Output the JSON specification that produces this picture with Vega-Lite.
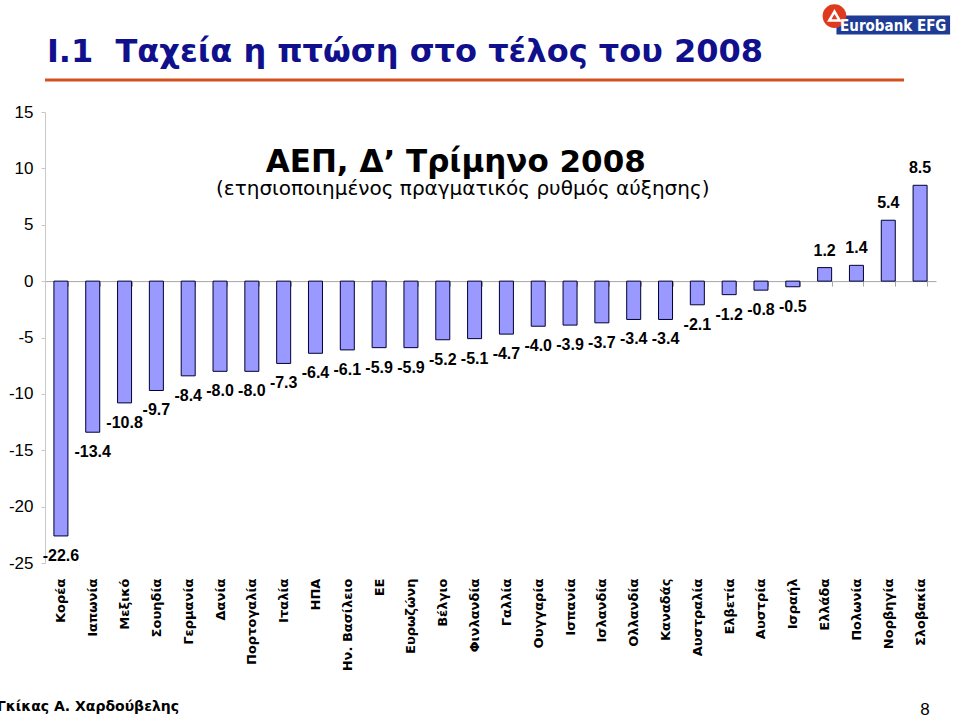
{
  "$schema": "https://vega.github.io/schema/vega-lite/v6.json",
  "width": 891,
  "height": 451,
  "autosize": {"type": "none"},
  "padding": {"left": 45, "top": 112, "right": 24, "bottom": 155},
  "background": "white",
  "config": {
    "view": {"stroke": null},
    "locale": {"number": {"decimal": ".", "thousands": ",", "grouping": [3], "currency": ["", ""], "minus": "-"}}
  },
  "datasets": {
    "gdp": [
      {"country": "Κορέα", "value": -22.6},
      {"country": "Ιαπωνία", "value": -13.4},
      {"country": "Μεξικό", "value": -10.8},
      {"country": "Σουηδία", "value": -9.7},
      {"country": "Γερμανία", "value": -8.4},
      {"country": "Δανία", "value": -8.0},
      {"country": "Πορτογαλία", "value": -8.0},
      {"country": "Ιταλία", "value": -7.3},
      {"country": "ΗΠΑ", "value": -6.4},
      {"country": "Ην. Βασίλειο", "value": -6.1},
      {"country": "ΕΕ", "value": -5.9},
      {"country": "Ευρωζώνη", "value": -5.9},
      {"country": "Βέλγιο", "value": -5.2},
      {"country": "Φινλανδία", "value": -5.1},
      {"country": "Γαλλία", "value": -4.7},
      {"country": "Ουγγαρία", "value": -4.0},
      {"country": "Ισπανία", "value": -3.9},
      {"country": "Ισλανδία", "value": -3.7},
      {"country": "Ολλανδία", "value": -3.4},
      {"country": "Καναδάς", "value": -3.4},
      {"country": "Αυστραλία", "value": -2.1},
      {"country": "Ελβετία", "value": -1.2},
      {"country": "Αυστρία", "value": -0.8},
      {"country": "Ισραήλ", "value": -0.5},
      {"country": "Ελλάδα", "value": 1.2},
      {"country": "Πολωνία", "value": 1.4},
      {"country": "Νορβηγία", "value": 5.4},
      {"country": "Σλοβακία", "value": 8.5}
    ],
    "notes": [
      {"key": "title", "t": "I.1\u00a0 Ταχεία η πτώση στο τέλος του 2008", "c": "Κορέα", "v": 19.43},
      {"key": "head", "t": "ΑΕΠ, Δ’ Τρίμηνο 2008", "c": "Βέλγιο", "v": 9.7},
      {"key": "sub", "t": "(ετησιοποιημένος πραγματικός ρυθμός αύξησης)", "c": "Βέλγιο", "v": 7.64},
      {"key": "author", "t": "Γκίκας Α. Χαρδούβελης", "c": "Κορέα", "v": -38.15},
      {"key": "page", "t": "8", "c": "Σλοβακία", "v": -38.45},
      {"key": "logo", "t": "Eurobank EFG", "c": "Νορβηγία", "v": 22.65}
    ]
  },
  "layer": [
    {
      "data": {"name": "gdp"},
      "mark": {"type": "bar", "fill": "#9999FF", "stroke": "#000033", "strokeWidth": 1},
      "encoding": {
        "x": {
          "field": "country",
          "type": "nominal",
          "sort": null,
          "scale": {"paddingInner": 0.56, "paddingOuter": 0.28},
          "axis": {
            "title": null,
            "orient": "bottom",
            "offset": -281.9,
            "domainColor": "#A6A6A6",
            "tickColor": "#A6A6A6",
            "tickSize": 5,
            "tickBand": "extent",
            "labelAngle": -90,
            "labelPadding": 292,
            "labelFont": "DejaVu Sans",
            "labelFontWeight": "bold",
            "labelFontSize": 13,
            "labelColor": "black",
            "labelOverlap": false,
            "labelLimit": 0
          }
        },
        "y": {
          "field": "value",
          "type": "quantitative",
          "scale": {"domain": [-25, 15], "nice": false},
          "axis": {
            "title": null,
            "values": [-25, -20, -15, -10, -5, 0, 5, 10, 15],
            "grid": false,
            "domainColor": "#C8C8C8",
            "tickColor": "#C8C8C8",
            "tickSize": 4,
            "labelPadding": 8,
            "labelFont": "Liberation Sans",
            "labelFontSize": 17,
            "labelColor": "black"
          }
        }
      }
    },
    {
      "data": {"name": "gdp"},
      "transform": [{"filter": "datum.value < 0"}],
      "mark": {"type": "text", "font": "Liberation Sans", "fontWeight": "bold", "fontSize": 16, "baseline": "middle", "align": "center", "dy": 20, "color": "black"},
      "encoding": {
        "x": {"field": "country", "type": "nominal", "sort": null},
        "y": {"field": "value", "type": "quantitative"},
        "text": {"field": "value", "type": "quantitative", "format": ".1f"}
      }
    },
    {
      "data": {"name": "gdp"},
      "transform": [{"filter": "datum.value > 0"}],
      "mark": {"type": "text", "font": "Liberation Sans", "fontWeight": "bold", "fontSize": 16, "baseline": "middle", "align": "center", "dy": -17, "color": "black"},
      "encoding": {
        "x": {"field": "country", "type": "nominal", "sort": null},
        "y": {"field": "value", "type": "quantitative"},
        "text": {"field": "value", "type": "quantitative", "format": ".1f"}
      }
    },
    {
      "data": {"name": "notes"},
      "transform": [{"filter": "datum.key === 'title'"}],
      "mark": {"type": "text", "font": "DejaVu Sans", "fontWeight": "bold", "fontSize": 32, "align": "left", "baseline": "alphabetic", "dx": -14, "color": "#10108C"},
      "encoding": {
        "x": {"field": "c", "type": "nominal", "sort": null},
        "y": {"field": "v", "type": "quantitative"},
        "text": {"field": "t"}
      }
    },
    {
      "data": {"name": "notes"},
      "transform": [{"filter": "datum.key === 'title'"}],
      "mark": {"type": "rule", "color": "#D4501E", "strokeWidth": 3, "xOffset": -32, "x2Offset": 17},
      "encoding": {"y": {"datum": 17.83, "type": "quantitative"}}
    },
    {
      "data": {"name": "notes"},
      "transform": [{"filter": "datum.key === 'logo'"}],
      "mark": {"type": "rule", "color": "#1E3C96", "strokeWidth": 19, "xOffset": -20, "x2Offset": 30},
      "encoding": {
        "x": {"datum": "Πολωνία", "type": "nominal"},
        "x2": {"datum": "Σλοβακία"},
        "y": {"datum": 22.71, "type": "quantitative"}
      }
    },
    {
      "data": {"name": "notes"},
      "transform": [{"filter": "datum.key === 'logo'"}],
      "mark": {"type": "point", "filled": true, "color": "#E03A1E", "size": 560, "opacity": 1, "xOffset": -22},
      "encoding": {
        "x": {"datum": "Πολωνία", "type": "nominal"},
        "y": {"datum": 23.51, "type": "quantitative"}
      }
    },
    {
      "data": {"name": "notes"},
      "transform": [{"filter": "datum.key === 'logo'"}],
      "mark": {"type": "point", "shape": "triangle-up", "filled": false, "color": "white", "strokeWidth": 2.5, "size": 110, "opacity": 1, "xOffset": -22},
      "encoding": {
        "x": {"datum": "Πολωνία", "type": "nominal"},
        "y": {"datum": 23.51, "type": "quantitative"}
      }
    },
    {
      "data": {"name": "notes"},
      "transform": [{"filter": "datum.key === 'logo'"}],
      "mark": {"type": "text", "font": "DejaVu Sans Condensed", "fontWeight": "bold", "fontSize": 15, "align": "center", "baseline": "middle", "dx": 5, "color": "white"},
      "encoding": {
        "x": {"field": "c", "type": "nominal", "sort": null},
        "y": {"field": "v", "type": "quantitative"},
        "text": {"field": "t"}
      }
    },
    {
      "data": {"name": "notes"},
      "transform": [{"filter": "datum.key === 'head'"}],
      "mark": {"type": "text", "font": "DejaVu Sans", "fontWeight": "bold", "fontSize": 31, "align": "center", "baseline": "alphabetic", "dx": 13, "color": "black"},
      "encoding": {
        "x": {"field": "c", "type": "nominal", "sort": null},
        "y": {"field": "v", "type": "quantitative"},
        "text": {"field": "t"}
      }
    },
    {
      "data": {"name": "notes"},
      "transform": [{"filter": "datum.key === 'sub'"}],
      "mark": {"type": "text", "font": "DejaVu Sans", "fontSize": 20, "align": "center", "baseline": "alphabetic", "dx": 20, "color": "black"},
      "encoding": {
        "x": {"field": "c", "type": "nominal", "sort": null},
        "y": {"field": "v", "type": "quantitative"},
        "text": {"field": "t"}
      }
    },
    {
      "data": {"name": "notes"},
      "transform": [{"filter": "datum.key === 'author'"}],
      "mark": {"type": "text", "font": "DejaVu Sans", "fontWeight": "bold", "fontSize": 14, "align": "left", "baseline": "alphabetic", "dx": -64, "color": "black"},
      "encoding": {
        "x": {"field": "c", "type": "nominal", "sort": null},
        "y": {"field": "v", "type": "quantitative"},
        "text": {"field": "t"}
      }
    },
    {
      "data": {"name": "notes"},
      "transform": [{"filter": "datum.key === 'page'"}],
      "mark": {"type": "text", "font": "Liberation Sans", "fontSize": 17, "align": "center", "baseline": "alphabetic", "dx": 5, "color": "black"},
      "encoding": {
        "x": {"field": "c", "type": "nominal", "sort": null},
        "y": {"field": "v", "type": "quantitative"},
        "text": {"field": "t"}
      }
    }
  ]
}
